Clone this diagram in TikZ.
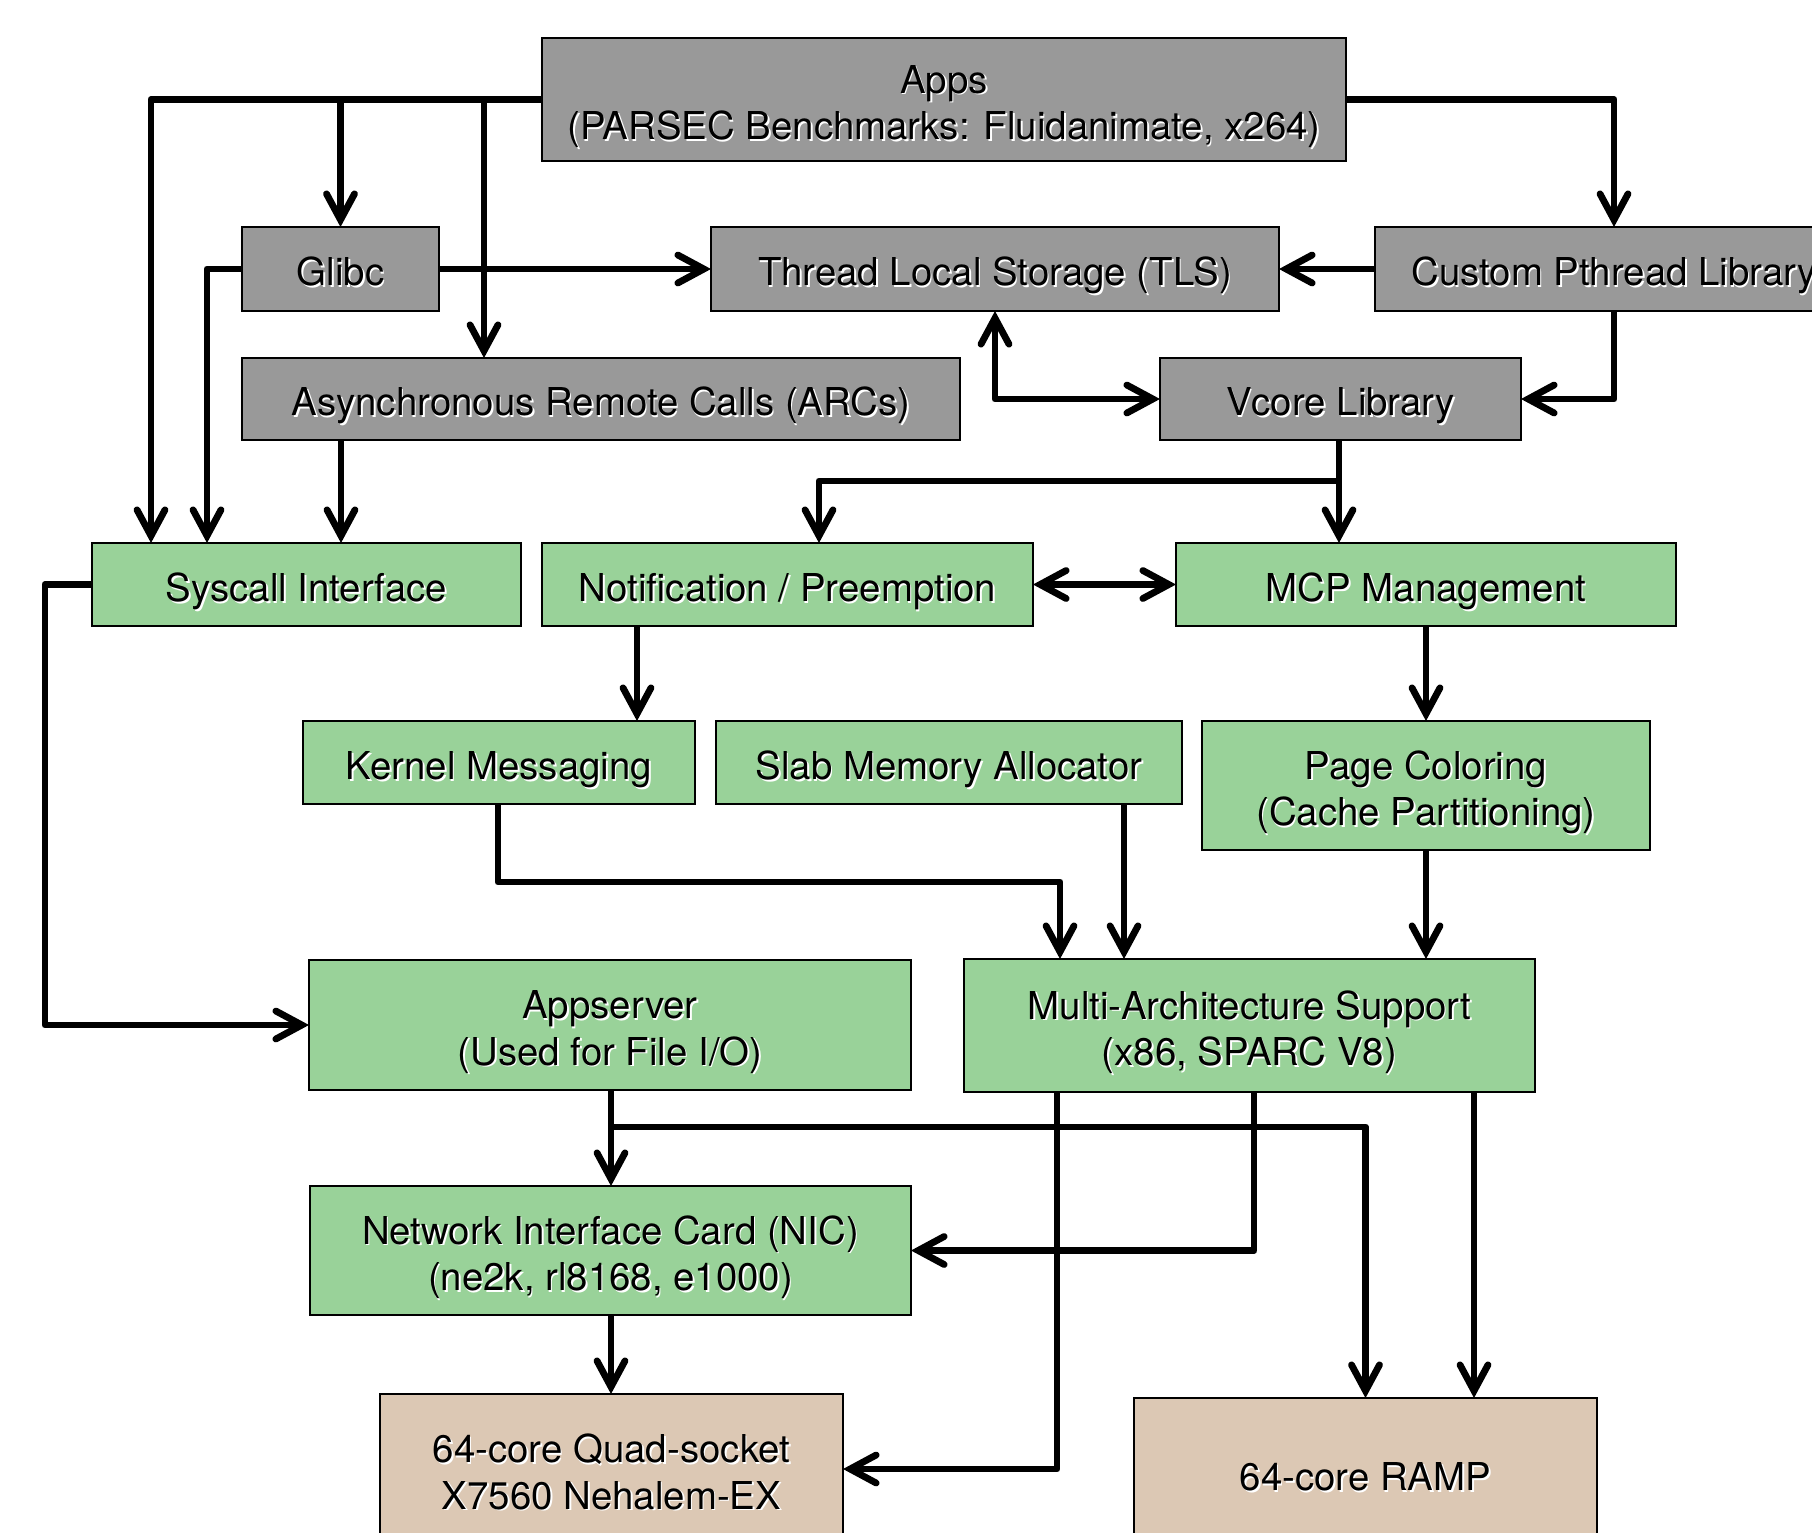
\documentclass[tikz,border=0pt]{standalone}
\usepackage{fontspec}
\setmainfont{TeX Gyre Heros}
\usetikzlibrary{arrows.meta,calc}
\definecolor{boxgray}{RGB}{153,153,153}
\definecolor{boxgreen}{RGB}{153,210,153}
\definecolor{boxtan}{RGB}{220,200,180}
\newcommand\stx[1]{\leavevmode\rlap{\kern0.8pt\raisebox{-0.8pt}{\color{white}#1}}#1}
\newcommand\bt[1]{\raisebox{-3.8pt}[\height][\depth]{\begin{tabular}{@{}c@{}}#1\end{tabular}}}
\begin{document}
\begin{tikzpicture}[x=0.5pt,y=-0.5pt,
  box/.style={draw=black, line width=0.8pt, inner sep=0pt, outer sep=0pt, align=center,
    font=\fontsize{19.2}{23.4}\selectfont},
  graybox/.style={box, fill=boxgray},
  greenbox/.style={box, fill=boxgreen},
  tanbox/.style={box, fill=boxtan},
  tip/.tip={Straight Barb[length=13pt,width=14pt,line cap=round,line join=miter]},
  conn/.style={line width=3.4pt, line join=round, -tip},
  conn2/.style={line width=3.4pt, line join=round, tip-tip},
]
\useasboundingbox (0,0) rectangle (1812,1533);
\clip (0,0) rectangle (1812,1533);

% boxes
\node[graybox, minimum width=402pt, minimum height=61.5pt] (apps) at (944,99.5)
  {\bt{\stx{Apps}\\\stx{(PARSEC Benchmarks: Fluidanimate, x264)}}};
\node[graybox, minimum width=98.5pt, minimum height=42pt] (glibc) at (340.5,269) {\bt{\stx{Glibc}}};
\node[graybox, minimum width=284pt, minimum height=42pt] (tls) at (995,269) {\bt{\stx{Thread Local Storage (TLS)}}};
\node[graybox, minimum width=239pt, minimum height=42pt] (custom) at (1614,269) {\bt{\stx{Custom Pthread Library}}};
\node[graybox, minimum width=359pt, minimum height=41pt] (arc) at (601,399) {\bt{\stx{Asynchronous Remote Calls (ARCs)}}};
\node[graybox, minimum width=180.5pt, minimum height=41pt] (vcore) at (1340.5,399) {\bt{\stx{Vcore Library}}};

\node[greenbox, minimum width=214.5pt, minimum height=41.5pt] (syscall) at (306.5,584.5) {\bt{\stx{Syscall Interface}}};
\node[greenbox, minimum width=245.5pt, minimum height=41.5pt] (notif) at (787.5,584.5) {\bt{\stx{Notification / Preemption}}};
\node[greenbox, minimum width=250pt, minimum height=41.5pt] (mcp) at (1426,584.5) {\bt{\stx{MCP Management}}};
\node[greenbox, minimum width=196pt, minimum height=41.5pt] (kernel) at (499,762.5) {\bt{\stx{Kernel Messaging}}};
\node[greenbox, minimum width=233pt, minimum height=41.5pt] (slab) at (949,762.5) {\bt{\stx{Slab Memory Allocator}}};
\node[greenbox, minimum width=224pt, minimum height=64.5pt] (page) at (1426,785.5)
  {\bt{\stx{Page Coloring}\\\stx{(Cache Partitioning)}}};
\node[greenbox, minimum width=301pt, minimum height=65pt] (appserver) at (610,1025)
  {\bt{\stx{Appserver}\\\stx{(Used for File I/O)}}};
\node[greenbox, minimum width=285.5pt, minimum height=66.5pt] (multi) at (1249.5,1025.5)
  {\bt{\stx{Multi-Architecture Support}\\\stx{(x86, SPARC V8)}}};
\node[greenbox, minimum width=300.5pt, minimum height=64.5pt] (nic) at (610.5,1250.5)
  {\bt{\stx{Network Interface Card (NIC)}\\\stx{(ne2k, rl8168, e1000)}}};
\node[tanbox, minimum width=231.5pt, minimum height=75pt] (nehalem) at (611.5,1469)
  {\bt{\stx{64-core Quad-socket}\\\stx{X7560 Nehalem-EX}}};
\node[tanbox, minimum width=231.5pt, minimum height=76pt] (ramp) at (1365.5,1474) {\bt{\stx{64-core RAMP}}};

% helper columns / rows
\coordinate (c45) at (45,0);
\coordinate (c151) at (151,0);
\coordinate (c207) at (207,0);
\coordinate (c341) at (341,0);
\coordinate (c484) at (484,0);
\coordinate (c498) at (498,0);
\coordinate (c611) at (611,0);
\coordinate (c637) at (637,0);
\coordinate (c819) at (819,0);
\coordinate (c1057) at (1057,0);
\coordinate (c1060) at (1060,0);
\coordinate (c1124) at (1124,0);
\coordinate (c1254) at (1254,0);
\coordinate (c1339) at (1339,0);
\coordinate (c1474) at (1474,0);
\coordinate (r481) at (0,481);
\coordinate (r882) at (0,882);
\coordinate (r1127) at (0,1127);

% connectors
\draw[conn] (apps.west) -| (syscall.north -| c151);
\draw[conn] (apps.west -| glibc.north) -- (glibc.north);
\draw[conn] (apps.west -| c484) -- (arc.north -| c484);
\draw[conn] (glibc.east) -- (tls.west);
\draw[conn] (glibc.west) -| (syscall.north -| c207);
\draw[conn] (arc.south -| c341) -- (syscall.north -| c341);
\draw[conn] (custom.west) -- (tls.east);
\draw[conn] (apps.east) -| (custom.north);
\draw[conn] (custom.south) |- (vcore.east);
\draw[conn2] (tls.south) |- (vcore.west);
\draw[conn] (vcore.south -| c1339) -- (mcp.north -| c1339);
\draw[conn] (r481 -| c1339) -| (notif.north -| c819);
\draw[conn2] (notif.east) -- (mcp.west);
\draw[conn] (syscall.west) -- (syscall.west -| c45) |- (appserver.west);
\draw[conn] (notif.south -| c637) -- (kernel.north -| c637);
\draw[conn] (mcp.south) -- (page.north);
\draw[conn] (kernel.south -| c498) |- (r882 -| c1060) -- (multi.north -| c1060);
\draw[conn] (slab.south -| c1124) -- (multi.north -| c1124);
\draw[conn] (page.south) -- (multi.north -| page.south);
\draw[conn] (appserver.south -| c611) -- (nic.north -| c611);
\draw[conn] (r1127 -| c611) -| (ramp.north);
\draw[conn] (multi.south -| c1057) |- (nehalem.east);
\draw[conn] (multi.south -| c1254) |- (nic.east);
\draw[conn] (multi.south -| c1474) -- (ramp.north -| c1474);
\draw[conn] (nic.south -| c611) -- (nehalem.north -| c611);
\end{tikzpicture}
\end{document}
